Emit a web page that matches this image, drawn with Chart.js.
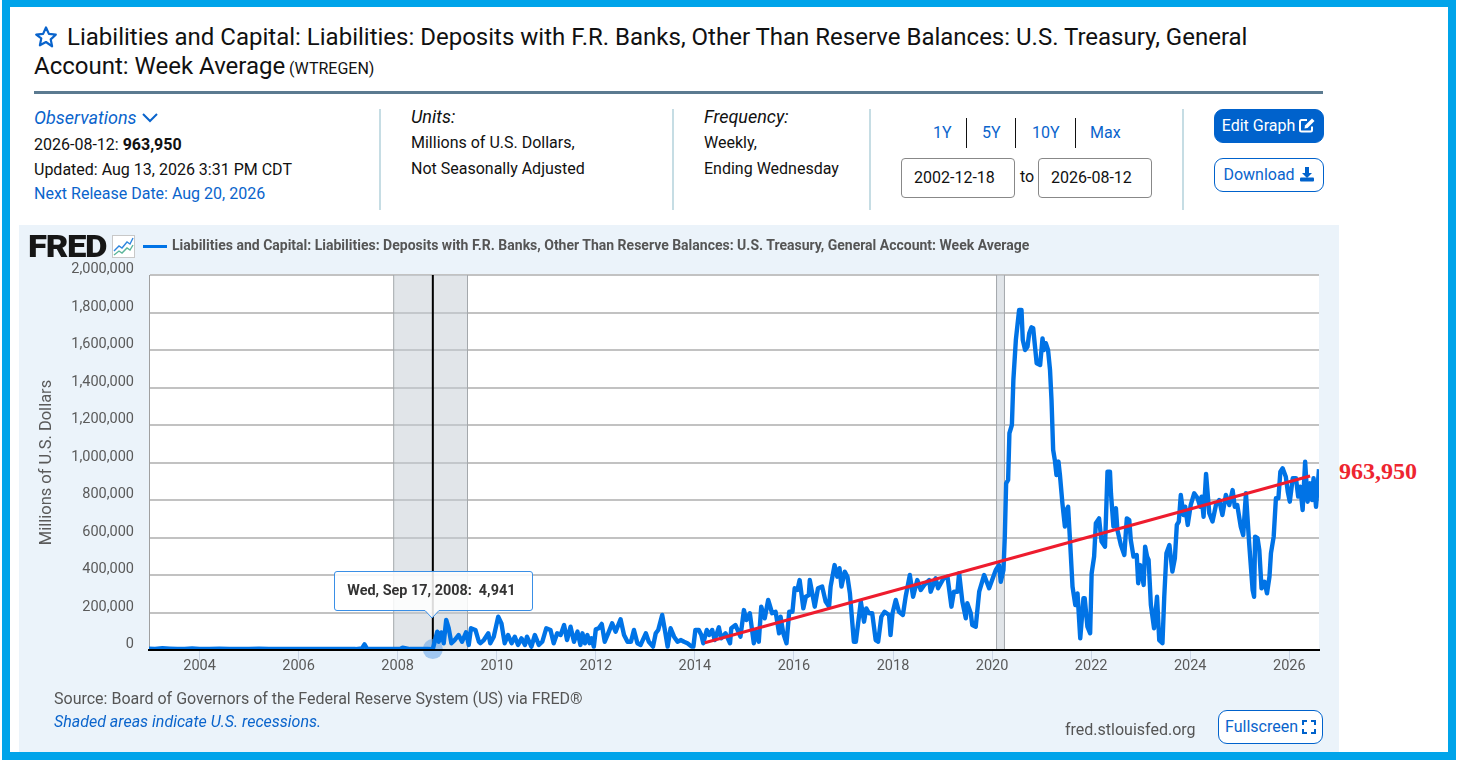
<!DOCTYPE html>
<html><head><meta charset="utf-8">
<script src="https://cdn.jsdelivr.net/npm/chart.js@4"></script>
<style>
*{box-sizing:border-box}
html,body{margin:0;padding:0;background:#fff;width:1459px;height:760px;overflow:hidden;font-family:Roboto,sans-serif;color:#111}
.a{position:absolute;white-space:nowrap;line-height:1}
#frame{position:absolute;left:2px;top:0;width:1454px;height:760px;border:solid #00a4ea;border-width:7px 8px 8px 8px}
#panel{position:absolute;left:19px;top:225px;width:1320px;height:527px;background:#ebf3fa}
#cv{position:absolute;left:19px;top:225px}
.blue{color:#0a64cc}
.div{position:absolute;top:109px;width:2px;height:101px;background:#c6dde4}
.sep{position:absolute;top:118px;width:1px;height:30px;background:#111}
.inp{position:absolute;top:158px;width:114px;height:40px;border:1px solid #888;border-radius:4px;font-size:16px;line-height:38px;padding-left:12px;background:#fff}
.btn{position:absolute;left:1214px;width:110px;height:34px;border-radius:9px;font-size:16px;line-height:32px;text-align:center;border:1px solid #0062cc}
</style></head><body>
<div id="frame"></div>
<svg class="a" style="left:34px;top:25px" width="24" height="24" viewBox="0 0 24 24"><path d="M12 2.5l2.9 6.4 6.9.8-5.1 4.7 1.4 6.9L12 17l-6.1 3.3 1.4-6.9L2.2 9.7l6.9-.8z" fill="none" stroke="#0a64cc" stroke-width="2.2" stroke-linejoin="round"/></svg>
<div class="a" style="left:67px;top:25px;font-size:24px">Liabilities and Capital: Liabilities: Deposits with F.R. Banks, Other Than Reserve Balances: U.S. Treasury, General</div>
<div class="a" style="left:34px;top:54px;font-size:24px">Account: Week Average</div>
<div class="a" style="left:289px;top:61px;font-size:16px">(WTREGEN)</div>
<div class="a" style="left:34px;top:91px;width:1289px;height:3px;background:#5b7a90"></div>

<div class="a blue" style="left:34px;top:109px;font-size:18px;font-style:italic">Observations</div>
<svg class="a" style="left:141px;top:112px" width="18" height="12" viewBox="0 0 18 12"><path d="M2 2l7 7 7-7" fill="none" stroke="#0a64cc" stroke-width="2"/></svg>
<div class="a" style="left:34px;top:137px;font-size:16px">2026-08-12: <b>963,950</b></div>
<div class="a" style="left:34px;top:162px;font-size:16px">Updated: Aug 13, 2026 3:31 PM CDT</div>
<div class="a blue" style="left:34px;top:186px;font-size:16px">Next Release Date: Aug 20, 2026</div>
<div class="div" style="left:379px"></div>
<div class="a" style="left:411px;top:108px;font-size:18px;font-style:italic">Units:</div>
<div class="a" style="left:411px;top:135px;font-size:16px">Millions of U.S. Dollars,</div>
<div class="a" style="left:411px;top:161px;font-size:16px">Not Seasonally Adjusted</div>
<div class="div" style="left:672px"></div>
<div class="a" style="left:704px;top:108px;font-size:18px;font-style:italic">Frequency:</div>
<div class="a" style="left:704px;top:135px;font-size:16px">Weekly,</div>
<div class="a" style="left:704px;top:161px;font-size:16px">Ending Wednesday</div>
<div class="div" style="left:869px"></div>
<div class="a blue" style="left:933px;top:125px;font-size:16px">1Y</div><div class="sep" style="left:966px"></div>
<div class="a blue" style="left:982px;top:125px;font-size:16px">5Y</div><div class="sep" style="left:1015px"></div>
<div class="a blue" style="left:1032px;top:125px;font-size:16px">10Y</div><div class="sep" style="left:1075px"></div>
<div class="a blue" style="left:1090px;top:125px;font-size:16px">Max</div>
<div class="inp" style="left:901px">2002-12-18</div>
<div class="a" style="left:1020px;top:169px;font-size:16px">to</div>
<div class="inp" style="left:1038px">2026-08-12</div>
<div class="div" style="left:1182px"></div>
<div class="btn" style="top:109px;background:#0062cc;color:#fff;padding-right:0">Edit Graph <svg width="17" height="16" viewBox="0 0 17 16" style="vertical-align:-2px"><path d="M13 9.5V13a1.5 1.5 0 0 1-1.5 1.5h-9A1.5 1.5 0 0 1 1 13V4.5A1.5 1.5 0 0 1 2.500 3H8" fill="none" stroke="#fff" stroke-width="2"/><path d="M6 8.500L13 1.500l2.500 2.500L8.500 11 5.500 11.500z" fill="#fff"/></svg></div>
<div class="btn blue" style="top:158px;background:#fff">Download <svg width="16" height="16" viewBox="0 0 16 16" style="vertical-align:-2px"><path d="M6 1h4v6h3l-5 5-5-5h3z" fill="#0062cc"/><rect x="1" y="11.500" width="14" height="4" rx="1" fill="#0062cc"/></svg></div>

<div id="panel"></div>
<canvas id="cv" width="1320" height="527"></canvas>

<div class="a" style="left:28px;top:231px;font-size:31px;font-weight:900;letter-spacing:-1.2px;color:#161616;font-family:Roboto,sans-serif;transform:scaleX(1.12);transform-origin:0 0">FRED</div>
<svg class="a" style="left:112px;top:235px" width="23" height="23" viewBox="0 0 23 23"><rect x=".5" y=".5" width="22" height="22" fill="#fff" stroke="#c8c8c8"/><polyline points="2,16 7,11 10,13 15,7 18,9 21,3" fill="none" stroke="#2f86de" stroke-width="1.400"/><polyline points="2,20 7,16 10,18 15,13 18,15 21,10" fill="none" stroke="#5bb59a" stroke-width="1.400"/></svg>
<div class="a" style="left:143px;top:245px;width:24px;height:3px;background:#0073e6"></div>
<div class="a" style="left:172px;top:238px;font-size:14px;font-weight:700;color:#555">Liabilities and Capital: Liabilities: Deposits with F.R. Banks, Other Than Reserve Balances: U.S. Treasury, General Account: Week Average</div>

<div class="a" style="left:54px;top:691px;font-size:16px;color:#555">Source: Board of Governors of the Federal Reserve System (US) via FRED®</div>
<div class="a blue" style="left:54px;top:714px;font-size:16px;font-style:italic">Shaded areas indicate U.S. recessions.</div>
<div class="a" style="left:1065px;top:722px;font-size:16px;color:#555">fred.stlouisfed.org</div>
<div class="btn blue" style="left:1218px;top:710px;width:105px;background:#fff">Fullscreen <svg width="14" height="14" viewBox="0 0 14 14" style="vertical-align:-2px"><path d="M1 5V1h4M9 1h4v4M13 9v4H9M5 13H1V9" fill="none" stroke="#0062cc" stroke-width="2"/></svg></div>
<div class="a" style="left:1339px;top:459px;font-family:'Liberation Serif',serif;font-weight:700;font-size:24px;color:#ee2530">963,950</div>

<div id="tip" class="a" style="width:200px;height:48px">
<svg width="200" height="48" style="position:absolute;left:0;top:0"><path d="M3 .5H196a2.500 2.500 0 0 1 2.500 2.500V37a2.500 2.500 0 0 1-2.500 2.500H105L98 47 91 39.500H3A2.500 2.500 0 0 1 .5 37V3A2.500 2.500 0 0 1 3 .5z" fill="rgba(255,255,255,.86)" stroke="#3a8fe6"/></svg>
<div class="a" style="left:13px;top:13px;font-size:14.4px;font-weight:700;color:#333;white-space:pre">Wed, Sep 17, 2008:  4,941</div>
</div>

<script>
const tickYears = [2004,2006,2008,2010,2012,2014,2016,2018,2020,2022,2024,2026];
const valueTicks = [0,200000,400000,600000,800000,1000000,1200000,1400000,1600000,1800000,2000000];
const recessionStart = [2007.92, 2020.09];
const recessionEnd = [2009.41, 2020.25];
const hoverYear = [2008.71];
const hoverValue = [4941];
const trendYears = [2014.2, 2026.42];
const trendValues = [39000, 928000];

const years2003to2008 = [2002.98,2003.1,2003.25,2003.4,2003.55,2003.7,2003.85,2004,2004.2,2004.4,2004.6,2004.8,2005,2005.2,2005.4,2005.6,2005.8,2006,2006.2,2006.4,2006.6,2006.8,2007,2007.15,2007.28,2007.33,2007.38,2007.55,2007.75,2007.9,2008.05,2008.1,2008.25,2008.45,2008.6,2008.71];
const values2003to2008 = [7000,6000,9000,7000,5000,6000,8000,5000,6000,7000,5000,6000,5000,7000,5000,6000,5000,6000,5000,6000,5000,5000,6000,5000,9000,30000,7000,5000,6000,5000,5000,12000,5000,5000,6000,4941];

const years2009to2013 = [2008.8,2008.83,2008.88,2008.93,2008.98,2009.03,2009.085,2009.15,2009.23,2009.3,2009.38,2009.435,2009.48,2009.57,2009.64,2009.67,2009.74,2009.83,2009.87,2009.94,2010.03,2010.095,2010.16,2010.23,2010.3,2010.365,2010.43,2010.5,2010.57,2010.61,2010.7,2010.77,2010.85,2010.92,2011,2011.085,2011.15,2011.22,2011.29,2011.36,2011.42,2011.49,2011.56,2011.63,2011.69,2011.73,2011.78,2011.83,2011.875,2011.915,2011.96,2012,2012.06,2012.12,2012.18,2012.25,2012.33,2012.4,2012.5,2012.57,2012.64,2012.71,2012.77,2012.84,2012.905,2013.01,2013.07,2013.155,2013.21,2013.26,2013.34,2013.4,2013.45,2013.51,2013.58,2013.65,2013.72,2013.78,2013.85,2013.935];
const values2009to2013 = [98000,44000,94000,36000,160000,116000,36000,53000,80000,44000,94000,27000,116000,107000,44000,36000,53000,89000,36000,71000,178000,142000,36000,80000,36000,71000,27000,62000,27000,71000,18000,80000,27000,44000,116000,107000,36000,89000,80000,133000,53000,124000,44000,98000,27000,89000,36000,80000,36000,62000,18000,110000,116000,139000,44000,89000,142000,98000,164000,80000,44000,44000,107000,36000,27000,89000,44000,18000,89000,107000,187000,98000,18000,116000,71000,44000,53000,44000,36000,18000];

const years2014to2019 = [2013.97,2014.01,2014.08,2014.13,2014.17,2014.24,2014.29,2014.35,2014.4,2014.485,2014.53,2014.62,2014.71,2014.735,2014.82,2014.92,2014.99,2015.04,2015.11,2015.19,2015.23,2015.29,2015.34,2015.41,2015.48,2015.56,2015.63,2015.7,2015.73,2015.785,2015.85,2015.905,2015.97,2016.015,2016.07,2016.115,2016.19,2016.24,2016.3,2016.32,2016.42,2016.485,2016.57,2016.64,2016.71,2016.74,2016.82,2016.875,2016.92,2016.96,2017.025,2017.08,2017.13,2017.21,2017.25,2017.35,2017.415,2017.46,2017.515,2017.58,2017.65,2017.7,2017.765,2017.83,2017.92,2017.95,2017.99,2018.055,2018.12,2018.2,2018.255,2018.34,2018.405,2018.49,2018.56,2018.63,2018.73,2018.76,2018.86,2018.91,2019.02,2019.1,2019.18,2019.23,2019.3,2019.335,2019.4,2019.47,2019.5,2019.57,2019.6,2019.67,2019.74,2019.84,2019.94];
const values2014to2019 = [18000,107000,107000,80000,36000,107000,80000,107000,53000,121000,62000,89000,36000,116000,133000,71000,213000,160000,196000,36000,98000,44000,231000,169000,267000,196000,204000,89000,178000,89000,36000,204000,204000,329000,320000,373000,222000,284000,293000,373000,231000,329000,338000,258000,231000,338000,453000,391000,436000,338000,418000,391000,302000,44000,44000,258000,151000,222000,196000,196000,53000,44000,178000,204000,187000,80000,196000,267000,204000,187000,284000,400000,284000,373000,320000,347000,373000,311000,382000,329000,382000,391000,231000,311000,311000,409000,258000,169000,249000,196000,133000,124000,311000,400000,329000];

const years2020to2022 = [2020.075,2020.14,2020.176,2020.23,2020.257,2020.284,2020.324,2020.35,2020.4,2020.43,2020.48,2020.546,2020.594,2020.62,2020.667,2020.715,2020.75,2020.795,2020.83,2020.9,2020.97,2021.018,2021.05,2021.085,2021.13,2021.17,2021.2,2021.233,2021.267,2021.3,2021.34,2021.37,2021.42,2021.47,2021.5,2021.535,2021.577,2021.624,2021.68,2021.725,2021.78,2021.845,2021.87,2021.925,2021.98,2022.01,2022.06,2022.095,2022.16,2022.21,2022.28,2022.33,2022.38];
const values2020to2022 = [427000,453000,364000,427000,604000,889000,907000,1156000,1200000,1440000,1653000,1814000,1814000,1653000,1600000,1618000,1689000,1721000,1716000,1529000,1520000,1662000,1600000,1636000,1600000,1493000,1333000,1067000,1013000,933000,1005000,933000,782000,658000,747000,764000,569000,338000,240000,302000,62000,276000,276000,124000,89000,409000,498000,676000,702000,578000,551000,951000,951000];

const years2023to2026 = [2022.4,2022.45,2022.5,2022.53,2022.6,2022.67,2022.72,2022.77,2022.8,2022.855,2022.92,2022.95,2022.99,2023.06,2023.09,2023.13,2023.16,2023.206,2023.27,2023.33,2023.375,2023.44,2023.476,2023.52,2023.58,2023.64,2023.69,2023.73,2023.77,2023.81,2023.865,2023.9,2023.95,2024.01,2024.08,2024.15,2024.2,2024.23,2024.27,2024.32,2024.385,2024.45,2024.52,2024.586,2024.65,2024.72,2024.79,2024.856,2024.9,2024.95,2025.02,2025.07,2025.125,2025.19,2025.26,2025.29,2025.31,2025.36,2025.395,2025.44,2025.5,2025.55,2025.6,2025.63,2025.685,2025.73,2025.78,2025.82,2025.866,2025.93,2025.97,2026.01,2026.07,2026.135,2026.18,2026.22,2026.27,2026.32,2026.37,2026.42,2026.46,2026.49,2026.54,2026.6];
const values2023to2026 = [836000,658000,756000,640000,560000,507000,702000,693000,587000,498000,507000,356000,453000,347000,551000,498000,480000,240000,116000,284000,53000,36000,284000,516000,560000,418000,489000,667000,685000,827000,720000,764000,667000,773000,836000,809000,764000,818000,711000,939000,729000,685000,773000,800000,720000,827000,773000,853000,764000,773000,658000,613000,836000,569000,320000,284000,604000,596000,533000,329000,364000,302000,391000,516000,604000,809000,809000,951000,969000,924000,844000,791000,916000,916000,818000,871000,747000,1004000,791000,889000,800000,916000,764000,963950];

const allYears = [].concat(years2003to2008,years2009to2013,years2014to2019,years2020to2022,years2023to2026);
const allValues = [].concat(values2003to2008,values2009to2013,values2014to2019,values2020to2022,values2023to2026);
const toPoints = (xs,ys)=>xs.map((x,i)=>({x:x,y:ys[i]}));

const decor = {
  id:'decor',
  beforeDraw(c){
    const a=c.chartArea,g=c.ctx;
    g.save();g.fillStyle='#fff';g.fillRect(a.left,a.top,a.right-a.left,a.bottom-a.top);g.restore();
  },
  beforeDatasetsDraw(c){
    const a=c.chartArea,g=c.ctx,x=c.scales.x;
    g.save();
    recessionStart.forEach((s,i)=>{
      const l=x.getPixelForValue(s),r=x.getPixelForValue(recessionEnd[i]);
      g.fillStyle='rgba(196,204,212,.5)';g.fillRect(l,a.top,r-l,a.bottom-a.top);
      g.strokeStyle='#a4a8ac';g.lineWidth=1;
      g.beginPath();g.moveTo(l,a.top);g.lineTo(l,a.bottom);g.moveTo(r,a.top);g.lineTo(r,a.bottom);g.stroke();
    });
    const h=x.getPixelForValue(hoverYear[0]);
    g.strokeStyle='#000';g.lineWidth=2;
    g.beginPath();g.moveTo(h,a.top);g.lineTo(h,a.bottom);g.stroke();
    g.restore();
  },
  afterDraw(c){
    const t=document.getElementById('tip');
    const h=c.scales.x.getPixelForValue(hoverYear[0]);
    t.style.left=(19+h-98.5)+'px';
    t.style.top=(225+c.chartArea.top+296)+'px';
  }
};

new Chart(document.getElementById('cv'),{
  type:'line',
  data:{datasets:[
    {data:toPoints(hoverYear,hoverValue),showLine:false,pointRadius:10,pointBackgroundColor:'rgba(110,170,235,.6)',pointBorderWidth:0,clip:false,order:3},
    {data:toPoints(allYears,allValues),borderColor:'#0073e6',borderWidth:4.4,pointRadius:0,tension:0,borderJoinStyle:'round',order:2},
    {data:toPoints(trendYears,trendValues),borderColor:'#ee1c2e',borderWidth:3,pointRadius:0,tension:0,order:1}
  ]},
  plugins:[decor],
  options:{
    responsive:false,animation:false,events:[],
    layout:{padding:{left:0,right:20,top:50,bottom:0}},
    plugins:{legend:{display:false},tooltip:{enabled:false},title:{display:false}},
    scales:{
      x:{type:'linear',min:2002.98,max:2026.6,
        afterBuildTicks(ax){ax.ticks=tickYears.map(v=>({value:v}));},
        afterFit(ax){ax.height=102;},
        border:{color:'#000',width:2,z:1},
        grid:{drawOnChartArea:false,drawTicks:true,tickLength:10,tickColor:'#cbd6e6',tickWidth:1},
        ticks:{autoSkip:false,maxRotation:0,padding:-2,color:'#5a5a5a',font:{family:'Roboto',size:14.5},callback:v=>String(v)}
      },
      y:{type:'linear',min:0,max:2000000,
        afterBuildTicks(ax){ax.ticks=valueTicks.map(v=>({value:v}));},
        afterFit(ax){ax.width=130;},
        border:{color:'#a0a0a0',width:1},
        grid:{color:'#c2c2c2',lineWidth:2,drawTicks:false},
        ticks:{padding:15,labelOffset:-5.5,color:'#5a5a5a',font:{family:'Roboto',size:14.5},callback:v=>v.toLocaleString('en-US')},
        title:{display:true,text:'Millions of U.S. Dollars',color:'#5a5a5a',font:{family:'Roboto',size:16.5},padding:{top:18,bottom:0}}
      }
    }
  }
});
</script>
</body></html>
